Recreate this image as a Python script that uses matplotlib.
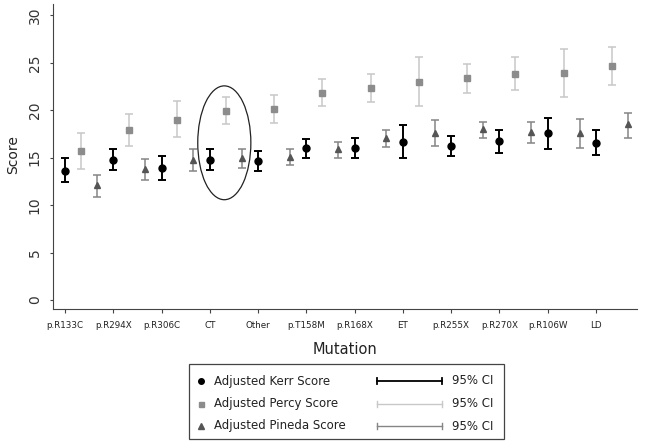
import matplotlib
matplotlib.use("Agg")
from matplotlib import pyplot as plt
from matplotlib.patches import Ellipse, Rectangle
import numpy as np

mutations = ["p.R133C", "p.R294X", "p.R306C", "CT", "Other", "p.T158M",
             "p.R168X", "ET", "p.R255X", "p.R270X", "p.R106W", "LD"]

kerr = [13.6, 14.8, 13.9, 14.8, 14.6, 16.0, 16.0, 16.7, 16.25, 16.8, 17.55, 16.6]
kerr_lo = [12.4, 13.7, 12.6, 13.75, 13.6, 15.0, 14.95, 15.0, 15.15, 15.5, 15.9, 15.3]
kerr_hi = [15.0, 15.9, 15.15, 15.9, 15.7, 16.95, 17.05, 18.4, 17.3, 17.9, 19.2, 17.9]

percy = [15.7, 17.9, 19.0, 19.9, 20.15, 21.8, 22.3, 23.0, 23.4, 23.85, 23.9, 24.7]
percy_lo = [13.8, 16.25, 17.2, 18.5, 18.7, 20.5, 20.85, 20.4, 21.85, 22.1, 21.4, 22.7]
percy_hi = [17.6, 19.65, 21.0, 21.4, 21.65, 23.25, 23.85, 25.6, 24.9, 25.6, 26.45, 26.7]

pineda = [12.1, 13.8, 14.8, 14.95, 15.1, 15.9, 17.1, 17.65, 18.0, 17.75, 17.6, 18.5]
pineda_lo = [10.9, 12.7, 13.6, 13.9, 14.2, 15.0, 16.1, 16.25, 17.1, 16.6, 16.0, 17.1]
pineda_hi = [13.2, 14.9, 15.9, 15.9, 15.9, 16.7, 17.9, 19.0, 18.8, 18.8, 19.1, 19.75]

plt.rcParams['font.family'] = ['DejaVu Sans']

fig = plt.figure(figsize=(6.45, 4.46), dpi=100)
ax = fig.add_axes([53 / 645, 1 - 309 / 446, (637 - 53) / 645, (309 - 4) / 446])

x = np.arange(len(mutations))


def draw_series(pos, mean, lo, hi, marker, mcolor, ecolor, ms, lw):
    mean = np.array(mean)
    err = [mean - np.array(lo), np.array(hi) - mean]
    ax.errorbar(pos, mean, yerr=err, fmt=marker, color=mcolor, ecolor=ecolor,
                ms=ms, elinewidth=lw, capsize=3, capthick=lw, mec=mcolor, zorder=3)


draw_series(x, kerr, kerr_lo, kerr_hi, 'o', 'black', 'black', 5, 1.4)
draw_series(x + 0.33, percy, percy_lo, percy_hi, 's', '#8c8c8c', '#c8c8c8', 4, 1.1)
draw_series(x + 0.66, pineda, pineda_lo, pineda_hi, '^', '#555555', '#858585', 5, 1.1)

# circle around the CT group
ax.add_patch(Ellipse((3.30, 16.57), 1.10, 12.0, fill=False, ec='#222222', lw=0.9))

ax.set_xlim(-0.249, 11.85)
ax.set_ylim(-0.95, 31.2)
ax.set_xticks(x)
ax.set_xticklabels(mutations, fontsize=6.3, color='#222222')
ax.set_yticks([0, 5, 10, 15, 20, 25, 30])
ax.tick_params(axis='y', labelrotation=90, labelsize=10, length=2.5, pad=5.5,
               width=0.8, color='#444444', labelcolor='#333333')
ax.tick_params(axis='x', length=3, pad=6, width=0.8, color='#444444')
for lab in ax.get_yticklabels():
    lab.set_va('center')
for side in ['top', 'right']:
    ax.spines[side].set_visible(False)
for side in ['left', 'bottom']:
    ax.spines[side].set_color('#444444')
    ax.spines[side].set_linewidth(0.8)

# axis titles, placed in pixel space of an overlay
ov = fig.add_axes([0, 0, 1, 1])
ov.set_xlim(0, 645)
ov.set_ylim(446, 0)
ov.axis('off')
ov.text(345, 350, "Mutation", fontsize=10.5, ha='center', va='center', color='#222222')
ov.text(13, 155, "Score", fontsize=10, ha='center', va='center', rotation=90, color='#222222')

# legend
ov.add_patch(Rectangle((189, 364), 315, 75, fill=False, ec='#444444', lw=0.9))
legend_rows = [
    ("Adjusted Kerr Score", 'o', 'black', 'black', 4, 1.3),
    ("Adjusted Percy Score", 's', '#8c8c8c', '#c8c8c8', 3.6, 1.0),
    ("Adjusted Pineda Score", '^', '#555555', '#858585', 4.2, 1.0),
]
for i, (name, mk, mc, ec, ms, lw) in enumerate(legend_rows):
    yy = 381 + i * 22.5
    ov.plot([201], [yy], marker=mk, color=mc, ms=ms, ls='none')
    ov.text(214, yy, name, fontsize=8.5, va='center', ha='left', color='#222222')
    ov.plot([377, 442], [yy, yy], color=ec, lw=lw)
    ov.plot([377, 377], [yy - 3, yy + 3], color=ec, lw=lw)
    ov.plot([442, 442], [yy - 3, yy + 3], color=ec, lw=lw)
    ov.text(452, yy, "95% CI", fontsize=8.5, va='center', ha='left', color='#222222')

fig.savefig("out.png", dpi=100)
